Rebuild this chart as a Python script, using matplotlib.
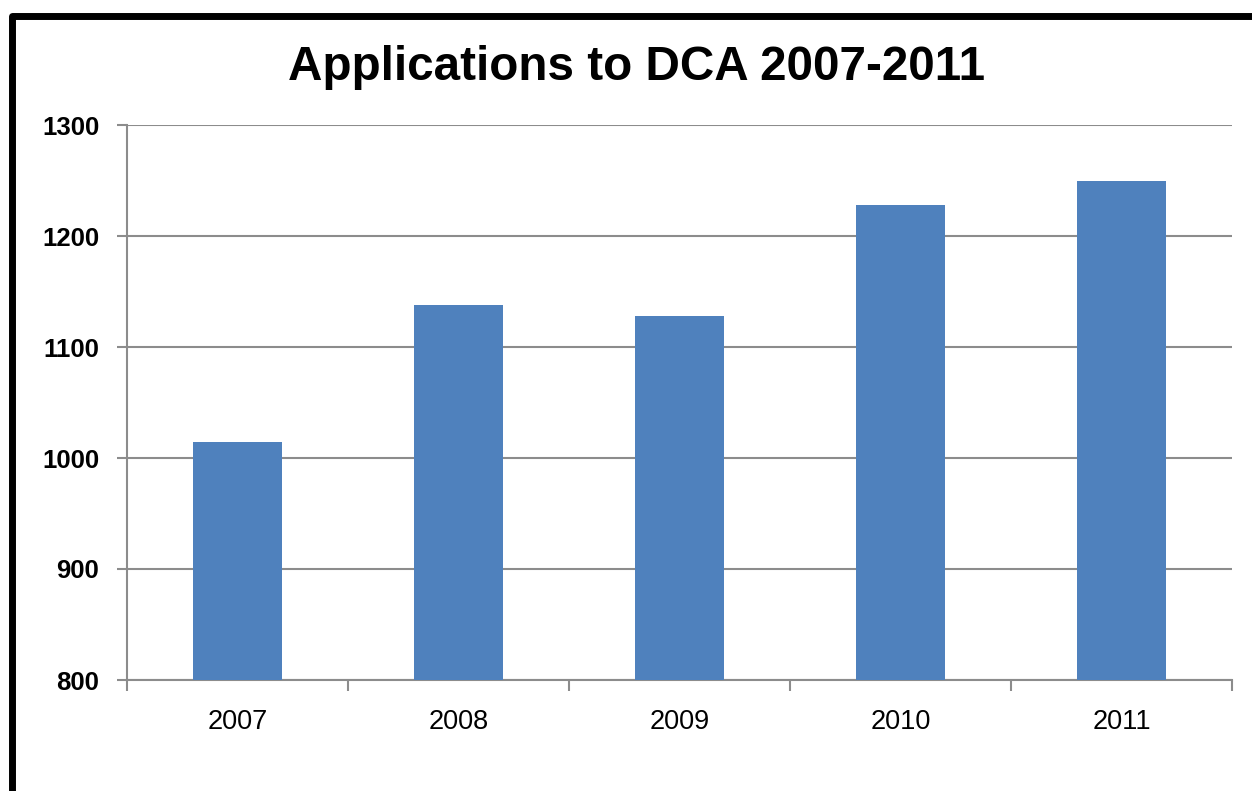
import numpy as np
import matplotlib.pyplot as plt
from matplotlib.patches import Rectangle

years = ['2007', '2008', '2009', '2010', '2011']
applications = [1014, 1138, 1128, 1228, 1250]
yticks = [800, 900, 1000, 1100, 1200, 1300]

plt.rcParams['font.family'] = ['Liberation Sans', 'DejaVu Sans']

fig = plt.figure(figsize=(12.52, 7.91), dpi=100)
ax = fig.add_axes([127 / 1252, 1 - 680 / 791, (1232 - 127) / 1252, (680 - 125) / 791])

x = np.arange(len(years))
ax.bar(x, applications, width=0.40, color='#4F81BD', zorder=3)

ax.set_ylim(800, 1300)
ax.set_xlim(-0.5, len(years) - 0.5)
ax.set_yticks(yticks)
ax.set_yticklabels([str(t) for t in yticks], fontsize=18.5, fontweight='bold')
ax.yaxis.grid(True, color='#8C8C8C', linewidth=1.5, zorder=0)

# category labels centred, ticks on the boundaries
ax.set_xticks(np.arange(-0.5, len(years)), minor=False)
ax.set_xticklabels([''] * (len(years) + 1))
ax.set_xticks(x, minor=True)
ax.set_xticklabels(years, minor=True, fontsize=19.5)
ax.tick_params(axis='x', which='minor', length=0, pad=21)
ax.tick_params(axis='x', which='major', length=8, width=1.5, color='#8C8C8C')
ax.tick_params(axis='y', length=7, width=1.5, color='#8C8C8C', pad=13)

for s in ['top', 'right']:
    ax.spines[s].set_visible(False)
for s in ['left', 'bottom']:
    ax.spines[s].set_color('#8C8C8C')
    ax.spines[s].set_linewidth(1.5)

fig.text(637 / 1252, 1 - 67 / 791, 'Applications to DCA 2007-2011',
         ha='center', va='center', fontsize=34.3, fontweight='bold')

# thick outer frame (cut off at right and bottom)
frame = Rectangle((11.5 / 1252, -0.2), 1.3, 1 + 0.2 - 15.5 / 791,
                  transform=fig.transFigure, fill=False, edgecolor='black',
                  linewidth=5, joinstyle='round')
fig.patches.append(frame)

fig.savefig('out.png', dpi=100)
